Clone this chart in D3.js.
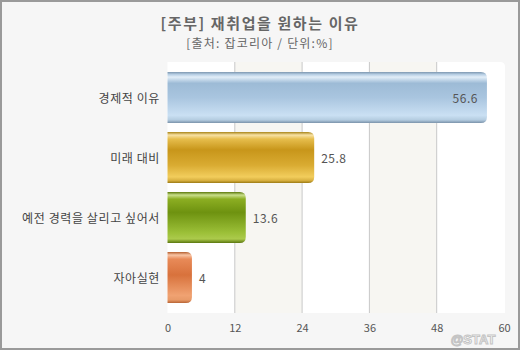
<!DOCTYPE html>
<html><head><meta charset="utf-8">
<script src="https://cdn.jsdelivr.net/npm/d3@7"></script>
<style>html,body{margin:0;padding:0;background:#fff}svg{display:block}</style>
</head><body>
<script>
const categories = ["경제적 이유", "미래 대비", "예전 경력을 살리고 싶어서", "자아실현"];
const values = [56.6, 25.8, 13.6, 4];
const ticks = [0, 12, 24, 36, 48, 60];
const title = "[주부] 재취업을 원하는 이유";
const subtitle = "[출처: 잡코리아 / 단위:%]";

const W = 520, H = 350;
const font = "'Noto Sans CJK KR', 'Noto Sans', sans-serif";
const svg = d3.select("body").append("svg").attr("width", W).attr("height", H);

svg.append("rect").attr("x", 1).attr("y", 1).attr("width", W - 2).attr("height", H - 2)
  .attr("fill", "#f6f6f6").attr("stroke", "#9a9a9a").attr("stroke-width", 2);

const x = d3.scaleLinear().domain([0, 60]).range([167.5, 504]);
const y = d3.scaleBand().domain(categories).range([63, 312]).paddingInner(0.15).paddingOuter(0.15);

const defs = svg.append("defs");
const grads = [
  [[0,"#7d97b0"],[0.05,"#b9d0e5"],[0.1,"#e2eef8"],[0.22,"#9dbbd6"],[0.5,"#a9c5df"],[0.85,"#cae0f3"],[0.94,"#b4cce0"],[1,"#7a92aa"]],
  [[0,"#a88418"],[0.06,"#f8e2a4"],[0.14,"#e6bd4c"],[0.35,"#c8961a"],[0.65,"#d9ab32"],[0.88,"#f2cd5c"],[0.95,"#d8b040"],[1,"#9c7a14"]],
  [[0,"#5b780a"],[0.06,"#cadf8c"],[0.14,"#8cae22"],[0.4,"#6e9210"],[0.8,"#9cc038"],[0.92,"#acca4c"],[1,"#5a760e"]],
  [[0,"#b45e2e"],[0.06,"#f8c4a4"],[0.14,"#e88a58"],[0.45,"#d8723c"],[0.85,"#f0a272"],[0.94,"#e89a68"],[1,"#b86434"]]
];
grads.forEach((g, i) => {
  const lg = defs.append("linearGradient").attr("id", "g" + i).attr("x1", 0).attr("y1", 0).attr("x2", 0).attr("y2", 1);
  g.forEach(s => lg.append("stop").attr("offset", s[0]).attr("stop-color", s[1]));
});

// plot area
const px0 = x(0), px1 = x(60) + 1, py0 = 62, py1 = 313;
svg.append("path").attr("d", `M${px0},${py0} H${px1-5} Q${px1},${py0} ${px1},${py0+5} V${py1} H${px0} Z`).attr("fill", "#ffffff");
for (let i = 1; i < ticks.length - 1; i += 2) {
  svg.append("rect").attr("x", x(ticks[i])).attr("y", py0).attr("width", x(ticks[i+1]) - x(ticks[i])).attr("height", py1 - py0).attr("fill", "#f7f6f2");
}
svg.selectAll("line.grid").data(ticks.slice(1, -1)).enter().append("line")
  .attr("x1", d => x(d)).attr("x2", d => x(d)).attr("y1", py0).attr("y2", py1)
  .attr("stroke", "#c8c8c8").attr("stroke-width", 1);

// axis
const axis = d3.axisBottom(x).tickValues(ticks).tickSize(0).tickPadding(0);
const ag = svg.append("g").attr("transform", `translate(0,${py1})`).call(axis);
ag.select(".domain").remove();
ag.selectAll("text").attr("y", 19).attr("dy", 0).attr("fill", "#555").attr("font-size", 11).attr("font-family", font);

// bars
const r = 6;
function barPath(x0, y0, x1, h) {
  const rr = Math.min(r, (x1 - x0) / 2);
  return `M${x0},${y0} H${x1-rr} Q${x1},${y0} ${x1},${y0+rr} V${y0+h-rr} Q${x1},${y0+h} ${x1-rr},${y0+h} H${x0} Z`;
}
svg.selectAll("path.bar").data(values).enter().append("path").attr("class", "bar")
  .attr("d", (d, i) => barPath(x(0), y(categories[i]), x(d) + 2, y.bandwidth()))
  .attr("fill", (d, i) => `url(#g${i})`);

// value labels
svg.selectAll("text.val").data(values).enter().append("text")
  .attr("x", (d) => d > 40 ? x(d) - 7 : x(d) + 9)
  .attr("y", (d, i) => y(categories[i]) + y.bandwidth() / 2 + 5)
  .attr("text-anchor", d => d > 40 ? "end" : "start")
  .attr("font-size", 12).attr("letter-spacing", 0.5).attr("fill", "#555").attr("font-family", font)
  .text(d => d);

// category labels
svg.selectAll("text.cat").data(categories).enter().append("text")
  .attr("x", 160).attr("y", d => y(d) + y.bandwidth() / 2 + 5)
  .attr("text-anchor", "end").attr("font-size", 12).attr("letter-spacing", 0.6).attr("fill", "#444").attr("font-family", font)
  .text(d => d);

// titles
svg.append("text").attr("x", 260).attr("y", 29).attr("text-anchor", "middle")
  .attr("font-size", 15).attr("letter-spacing", 1.6).attr("font-weight", "bold").attr("fill", "#666").attr("font-family", font).text(title);
svg.append("text").attr("x", 260).attr("y", 48).attr("text-anchor", "middle")
  .attr("font-size", 12).attr("letter-spacing", 1.2).attr("fill", "#666").attr("font-family", font).text(subtitle);

// watermark
svg.append("text").attr("x", 473).attr("y", 344).attr("text-anchor", "middle")
  .attr("font-size", 13).attr("font-weight", "bold").attr("fill", "#ffffff").attr("fill-opacity", 0.85)
  .attr("stroke", "#c4c4c4").attr("stroke-width", 1).attr("font-family", "Arial, 'Liberation Sans', sans-serif").text("@STAT");
</script>
</body></html>
